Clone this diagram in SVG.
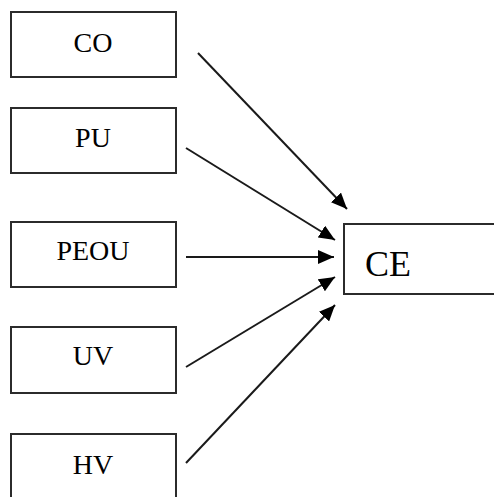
<svg xmlns="http://www.w3.org/2000/svg" width="494" height="497" viewBox="0 0 494 497">
<defs>
<style>
.box{fill:#fff;stroke:#2b2b2b;stroke-width:2}
.lbl{font-family:"Liberation Serif","Times New Roman",serif;font-size:28px;fill:#000;text-anchor:middle}
.ce{font-family:"Liberation Serif","Times New Roman",serif;font-size:36px;fill:#000}
.arr{stroke:#1a1a1a;stroke-width:2;fill:none;marker-end:url(#ah)}
</style>
<marker id="ah" markerUnits="userSpaceOnUse" markerWidth="18" markerHeight="14" viewBox="0 0 18 14" refX="16" refY="7" orient="auto">
<path d="M0,0 L16,7 L0,14 Z" fill="#000"/>
</marker>
</defs>
<rect width="494" height="497" fill="#fff"/>
<g id="connectors">
<line class="arr" x1="198" y1="53" x2="347" y2="209"/>
<line class="arr" x1="186" y1="148" x2="335" y2="240"/>
<line class="arr" x1="186" y1="257" x2="334" y2="257"/>
<line class="arr" x1="186" y1="367" x2="335" y2="277"/>
<line class="arr" x1="186" y1="463" x2="335" y2="305"/>
</g>
<g id="CO"><rect class="box" x="11" y="12" width="165" height="65"/><text class="lbl" x="93" y="52">CO</text></g>
<g id="PU"><rect class="box" x="11" y="108" width="165" height="65"/><text class="lbl" x="93" y="147">PU</text></g>
<g id="PEOU"><rect class="box" x="11" y="222" width="165" height="65"/><text class="lbl" x="93" y="260">PEOU</text></g>
<g id="UV"><rect class="box" x="11" y="327" width="165" height="66"/><text class="lbl" x="93" y="365">UV</text></g>
<g id="HV"><rect class="box" x="11" y="434" width="165" height="70"/><text class="lbl" x="93" y="474">HV</text></g>
<g id="CE"><rect class="box" x="344" y="224" width="160" height="70"/><text class="ce" x="365" y="276">CE</text></g>
</svg>
